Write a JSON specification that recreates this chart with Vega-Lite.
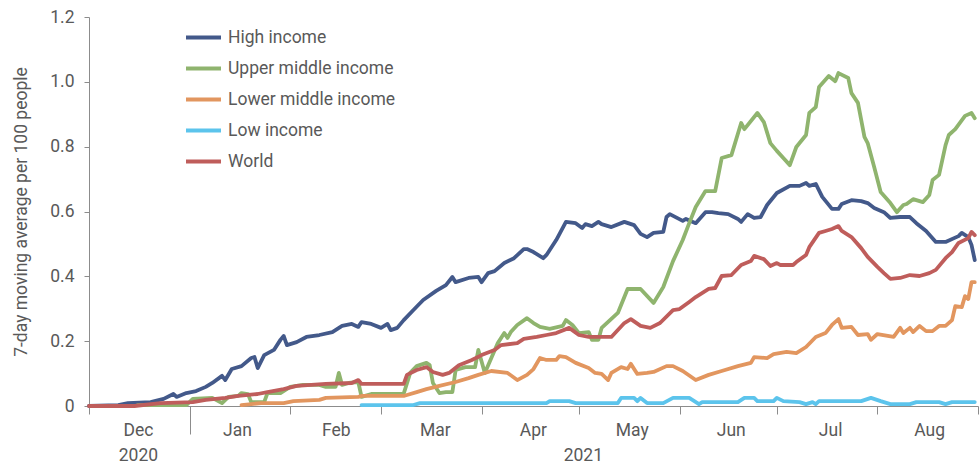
{
  "$schema": "https://vega.github.io/schema/vega-lite/v6.json",
  "width": 889,
  "height": 389,
  "autosize": {"type": "none"},
  "padding": {"left": 89, "top": 17, "right": 1, "bottom": 58},
  "config": {
    "view": {"stroke": null},
    "font": "Roboto",
    "axis": {"grid": false, "domainColor": "#8c8c8c", "tickColor": "#8c8c8c", "labelColor": "#595959", "titleColor": "#595959", "labelFont": "Roboto", "titleFont": "Roboto", "labelFontSize": 17.5, "titleFontWeight": "normal"}
  },
  "resolve": {"axis": {"x": "independent"}},
  "layer": [
    {
      "data": {"values": [
        {"s":"High income","d":"2020-12-01","v":0},
        {"s":"High income","d":"2020-12-10","v":0.003},
        {"s":"High income","d":"2020-12-13","v":0.009},
        {"s":"High income","d":"2020-12-20","v":0.012},
        {"s":"High income","d":"2020-12-24","v":0.022},
        {"s":"High income","d":"2020-12-27","v":0.037},
        {"s":"High income","d":"2020-12-28","v":0.028},
        {"s":"High income","d":"2020-12-31","v":0.040},
        {"s":"High income","d":"2021-01-03","v":0.046},
        {"s":"High income","d":"2021-01-06","v":0.059},
        {"s":"High income","d":"2021-01-08","v":0.071},
        {"s":"High income","d":"2021-01-11","v":0.093},
        {"s":"High income","d":"2021-01-12","v":0.080},
        {"s":"High income","d":"2021-01-14","v":0.114},
        {"s":"High income","d":"2021-01-17","v":0.123},
        {"s":"High income","d":"2021-01-20","v":0.148},
        {"s":"High income","d":"2021-01-21","v":0.151},
        {"s":"High income","d":"2021-01-22","v":0.117},
        {"s":"High income","d":"2021-01-24","v":0.157},
        {"s":"High income","d":"2021-01-27","v":0.173},
        {"s":"High income","d":"2021-01-29","v":0.204},
        {"s":"High income","d":"2021-01-30","v":0.216},
        {"s":"High income","d":"2021-01-31","v":0.188},
        {"s":"High income","d":"2021-02-03","v":0.197},
        {"s":"High income","d":"2021-02-06","v":0.213},
        {"s":"High income","d":"2021-02-10","v":0.219},
        {"s":"High income","d":"2021-02-14","v":0.228},
        {"s":"High income","d":"2021-02-17","v":0.247},
        {"s":"High income","d":"2021-02-20","v":0.253},
        {"s":"High income","d":"2021-02-22","v":0.244},
        {"s":"High income","d":"2021-02-23","v":0.259},
        {"s":"High income","d":"2021-02-26","v":0.253},
        {"s":"High income","d":"2021-03-01","v":0.241},
        {"s":"High income","d":"2021-03-03","v":0.253},
        {"s":"High income","d":"2021-03-04","v":0.234},
        {"s":"High income","d":"2021-03-06","v":0.241},
        {"s":"High income","d":"2021-03-08","v":0.265},
        {"s":"High income","d":"2021-03-11","v":0.296},
        {"s":"High income","d":"2021-03-14","v":0.327},
        {"s":"High income","d":"2021-03-18","v":0.355},
        {"s":"High income","d":"2021-03-21","v":0.373},
        {"s":"High income","d":"2021-03-23","v":0.398},
        {"s":"High income","d":"2021-03-24","v":0.382},
        {"s":"High income","d":"2021-03-28","v":0.395},
        {"s":"High income","d":"2021-03-31","v":0.398},
        {"s":"High income","d":"2021-04-01","v":0.382},
        {"s":"High income","d":"2021-04-03","v":0.410},
        {"s":"High income","d":"2021-04-05","v":0.416},
        {"s":"High income","d":"2021-04-08","v":0.441},
        {"s":"High income","d":"2021-04-11","v":0.456},
        {"s":"High income","d":"2021-04-14","v":0.484},
        {"s":"High income","d":"2021-04-15","v":0.484},
        {"s":"High income","d":"2021-04-17","v":0.475},
        {"s":"High income","d":"2021-04-20","v":0.456},
        {"s":"High income","d":"2021-04-21","v":0.466},
        {"s":"High income","d":"2021-04-24","v":0.512},
        {"s":"High income","d":"2021-04-27","v":0.568},
        {"s":"High income","d":"2021-04-30","v":0.564},
        {"s":"High income","d":"2021-05-02","v":0.549},
        {"s":"High income","d":"2021-05-03","v":0.561},
        {"s":"High income","d":"2021-05-05","v":0.555},
        {"s":"High income","d":"2021-05-07","v":0.568},
        {"s":"High income","d":"2021-05-08","v":0.561},
        {"s":"High income","d":"2021-05-11","v":0.552},
        {"s":"High income","d":"2021-05-15","v":0.568},
        {"s":"High income","d":"2021-05-18","v":0.558},
        {"s":"High income","d":"2021-05-20","v":0.531},
        {"s":"High income","d":"2021-05-22","v":0.521},
        {"s":"High income","d":"2021-05-24","v":0.534},
        {"s":"High income","d":"2021-05-27","v":0.537},
        {"s":"High income","d":"2021-05-28","v":0.583},
        {"s":"High income","d":"2021-05-29","v":0.592},
        {"s":"High income","d":"2021-06-02","v":0.571},
        {"s":"High income","d":"2021-06-03","v":0.577},
        {"s":"High income","d":"2021-06-06","v":0.564},
        {"s":"High income","d":"2021-06-09","v":0.598},
        {"s":"High income","d":"2021-06-11","v":0.598},
        {"s":"High income","d":"2021-06-13","v":0.595},
        {"s":"High income","d":"2021-06-16","v":0.592},
        {"s":"High income","d":"2021-06-19","v":0.577},
        {"s":"High income","d":"2021-06-20","v":0.568},
        {"s":"High income","d":"2021-06-22","v":0.592},
        {"s":"High income","d":"2021-06-24","v":0.580},
        {"s":"High income","d":"2021-06-26","v":0.583},
        {"s":"High income","d":"2021-06-28","v":0.620},
        {"s":"High income","d":"2021-07-01","v":0.657},
        {"s":"High income","d":"2021-07-05","v":0.679},
        {"s":"High income","d":"2021-07-08","v":0.679},
        {"s":"High income","d":"2021-07-10","v":0.688},
        {"s":"High income","d":"2021-07-11","v":0.679},
        {"s":"High income","d":"2021-07-13","v":0.685},
        {"s":"High income","d":"2021-07-15","v":0.645},
        {"s":"High income","d":"2021-07-18","v":0.608},
        {"s":"High income","d":"2021-07-20","v":0.608},
        {"s":"High income","d":"2021-07-21","v":0.623},
        {"s":"High income","d":"2021-07-24","v":0.635},
        {"s":"High income","d":"2021-07-27","v":0.632},
        {"s":"High income","d":"2021-07-29","v":0.626},
        {"s":"High income","d":"2021-07-31","v":0.611},
        {"s":"High income","d":"2021-08-03","v":0.598},
        {"s":"High income","d":"2021-08-05","v":0.580},
        {"s":"High income","d":"2021-08-08","v":0.583},
        {"s":"High income","d":"2021-08-11","v":0.583},
        {"s":"High income","d":"2021-08-13","v":0.564},
        {"s":"High income","d":"2021-08-16","v":0.540},
        {"s":"High income","d":"2021-08-19","v":0.506},
        {"s":"High income","d":"2021-08-22","v":0.506},
        {"s":"High income","d":"2021-08-26","v":0.524},
        {"s":"High income","d":"2021-08-27","v":0.534},
        {"s":"High income","d":"2021-08-29","v":0.521},
        {"s":"High income","d":"2021-08-30","v":0.497},
        {"s":"High income","d":"2021-08-31","v":0.450},

        {"s":"Upper middle income","d":"2020-12-16","v":0.003},
        {"s":"Upper middle income","d":"2020-12-31","v":0.003},
        {"s":"Upper middle income","d":"2021-01-02","v":0.022},
        {"s":"Upper middle income","d":"2021-01-08","v":0.025},
        {"s":"Upper middle income","d":"2021-01-11","v":0.009},
        {"s":"Upper middle income","d":"2021-01-13","v":0.028},
        {"s":"Upper middle income","d":"2021-01-16","v":0.031},
        {"s":"Upper middle income","d":"2021-01-17","v":0.040},
        {"s":"Upper middle income","d":"2021-01-19","v":0.037},
        {"s":"Upper middle income","d":"2021-01-20","v":0.012},
        {"s":"Upper middle income","d":"2021-01-24","v":0.012},
        {"s":"Upper middle income","d":"2021-01-25","v":0.040},
        {"s":"Upper middle income","d":"2021-01-29","v":0.040},
        {"s":"Upper middle income","d":"2021-02-01","v":0.059},
        {"s":"Upper middle income","d":"2021-02-05","v":0.065},
        {"s":"Upper middle income","d":"2021-02-10","v":0.065},
        {"s":"Upper middle income","d":"2021-02-12","v":0.059},
        {"s":"Upper middle income","d":"2021-02-15","v":0.059},
        {"s":"Upper middle income","d":"2021-02-16","v":0.102},
        {"s":"Upper middle income","d":"2021-02-17","v":0.065},
        {"s":"Upper middle income","d":"2021-02-19","v":0.071},
        {"s":"Upper middle income","d":"2021-02-22","v":0.074},
        {"s":"Upper middle income","d":"2021-02-23","v":0.028},
        {"s":"Upper middle income","d":"2021-02-26","v":0.037},
        {"s":"Upper middle income","d":"2021-03-08","v":0.038},
        {"s":"Upper middle income","d":"2021-03-10","v":0.102},
        {"s":"Upper middle income","d":"2021-03-12","v":0.123},
        {"s":"Upper middle income","d":"2021-03-15","v":0.133},
        {"s":"Upper middle income","d":"2021-03-16","v":0.126},
        {"s":"Upper middle income","d":"2021-03-17","v":0.071},
        {"s":"Upper middle income","d":"2021-03-19","v":0.040},
        {"s":"Upper middle income","d":"2021-03-21","v":0.043},
        {"s":"Upper middle income","d":"2021-03-23","v":0.043},
        {"s":"Upper middle income","d":"2021-03-24","v":0.111},
        {"s":"Upper middle income","d":"2021-03-27","v":0.120},
        {"s":"Upper middle income","d":"2021-03-30","v":0.120},
        {"s":"Upper middle income","d":"2021-03-31","v":0.173},
        {"s":"Upper middle income","d":"2021-04-02","v":0.102},
        {"s":"Upper middle income","d":"2021-04-04","v":0.148},
        {"s":"Upper middle income","d":"2021-04-06","v":0.194},
        {"s":"Upper middle income","d":"2021-04-08","v":0.225},
        {"s":"Upper middle income","d":"2021-04-09","v":0.210},
        {"s":"Upper middle income","d":"2021-04-10","v":0.228},
        {"s":"Upper middle income","d":"2021-04-12","v":0.250},
        {"s":"Upper middle income","d":"2021-04-15","v":0.271},
        {"s":"Upper middle income","d":"2021-04-17","v":0.256},
        {"s":"Upper middle income","d":"2021-04-19","v":0.244},
        {"s":"Upper middle income","d":"2021-04-22","v":0.238},
        {"s":"Upper middle income","d":"2021-04-26","v":0.247},
        {"s":"Upper middle income","d":"2021-04-27","v":0.265},
        {"s":"Upper middle income","d":"2021-04-29","v":0.250},
        {"s":"Upper middle income","d":"2021-05-01","v":0.225},
        {"s":"Upper middle income","d":"2021-05-04","v":0.228},
        {"s":"Upper middle income","d":"2021-05-05","v":0.204},
        {"s":"Upper middle income","d":"2021-05-07","v":0.204},
        {"s":"Upper middle income","d":"2021-05-08","v":0.241},
        {"s":"Upper middle income","d":"2021-05-13","v":0.287},
        {"s":"Upper middle income","d":"2021-05-16","v":0.361},
        {"s":"Upper middle income","d":"2021-05-20","v":0.361},
        {"s":"Upper middle income","d":"2021-05-24","v":0.318},
        {"s":"Upper middle income","d":"2021-05-27","v":0.367},
        {"s":"Upper middle income","d":"2021-05-30","v":0.447},
        {"s":"Upper middle income","d":"2021-06-02","v":0.512},
        {"s":"Upper middle income","d":"2021-06-04","v":0.564},
        {"s":"Upper middle income","d":"2021-06-06","v":0.614},
        {"s":"Upper middle income","d":"2021-06-09","v":0.663},
        {"s":"Upper middle income","d":"2021-06-12","v":0.663},
        {"s":"Upper middle income","d":"2021-06-14","v":0.765},
        {"s":"Upper middle income","d":"2021-06-17","v":0.774},
        {"s":"Upper middle income","d":"2021-06-20","v":0.873},
        {"s":"Upper middle income","d":"2021-06-21","v":0.854},
        {"s":"Upper middle income","d":"2021-06-25","v":0.904},
        {"s":"Upper middle income","d":"2021-06-27","v":0.876},
        {"s":"Upper middle income","d":"2021-06-29","v":0.811},
        {"s":"Upper middle income","d":"2021-07-01","v":0.787},
        {"s":"Upper middle income","d":"2021-07-03","v":0.765},
        {"s":"Upper middle income","d":"2021-07-05","v":0.743},
        {"s":"Upper middle income","d":"2021-07-07","v":0.799},
        {"s":"Upper middle income","d":"2021-07-10","v":0.836},
        {"s":"Upper middle income","d":"2021-07-11","v":0.904},
        {"s":"Upper middle income","d":"2021-07-13","v":0.922},
        {"s":"Upper middle income","d":"2021-07-14","v":0.984},
        {"s":"Upper middle income","d":"2021-07-17","v":1.018},
        {"s":"Upper middle income","d":"2021-07-19","v":1.002},
        {"s":"Upper middle income","d":"2021-07-20","v":1.027},
        {"s":"Upper middle income","d":"2021-07-23","v":1.012},
        {"s":"Upper middle income","d":"2021-07-24","v":0.965},
        {"s":"Upper middle income","d":"2021-07-26","v":0.935},
        {"s":"Upper middle income","d":"2021-07-28","v":0.830},
        {"s":"Upper middle income","d":"2021-07-29","v":0.811},
        {"s":"Upper middle income","d":"2021-07-31","v":0.737},
        {"s":"Upper middle income","d":"2021-08-02","v":0.660},
        {"s":"Upper middle income","d":"2021-08-05","v":0.626},
        {"s":"Upper middle income","d":"2021-08-07","v":0.598},
        {"s":"Upper middle income","d":"2021-08-09","v":0.620},
        {"s":"Upper middle income","d":"2021-08-10","v":0.623},
        {"s":"Upper middle income","d":"2021-08-12","v":0.638},
        {"s":"Upper middle income","d":"2021-08-15","v":0.629},
        {"s":"Upper middle income","d":"2021-08-17","v":0.651},
        {"s":"Upper middle income","d":"2021-08-18","v":0.697},
        {"s":"Upper middle income","d":"2021-08-20","v":0.713},
        {"s":"Upper middle income","d":"2021-08-22","v":0.805},
        {"s":"Upper middle income","d":"2021-08-23","v":0.836},
        {"s":"Upper middle income","d":"2021-08-25","v":0.854},
        {"s":"Upper middle income","d":"2021-08-28","v":0.895},
        {"s":"Upper middle income","d":"2021-08-30","v":0.904},
        {"s":"Upper middle income","d":"2021-08-31","v":0.888},

        {"s":"Lower middle income","d":"2021-01-17","v":0.003},
        {"s":"Lower middle income","d":"2021-01-23","v":0.009},
        {"s":"Lower middle income","d":"2021-01-30","v":0.009},
        {"s":"Lower middle income","d":"2021-02-02","v":0.015},
        {"s":"Lower middle income","d":"2021-02-10","v":0.019},
        {"s":"Lower middle income","d":"2021-02-12","v":0.025},
        {"s":"Lower middle income","d":"2021-02-22","v":0.028},
        {"s":"Lower middle income","d":"2021-02-23","v":0.031},
        {"s":"Lower middle income","d":"2021-03-08","v":0.031},
        {"s":"Lower middle income","d":"2021-03-09","v":0.034},
        {"s":"Lower middle income","d":"2021-03-12","v":0.043},
        {"s":"Lower middle income","d":"2021-03-15","v":0.052},
        {"s":"Lower middle income","d":"2021-03-19","v":0.062},
        {"s":"Lower middle income","d":"2021-03-24","v":0.074},
        {"s":"Lower middle income","d":"2021-03-28","v":0.086},
        {"s":"Lower middle income","d":"2021-03-31","v":0.096},
        {"s":"Lower middle income","d":"2021-04-04","v":0.108},
        {"s":"Lower middle income","d":"2021-04-09","v":0.102},
        {"s":"Lower middle income","d":"2021-04-12","v":0.080},
        {"s":"Lower middle income","d":"2021-04-15","v":0.096},
        {"s":"Lower middle income","d":"2021-04-17","v":0.114},
        {"s":"Lower middle income","d":"2021-04-19","v":0.148},
        {"s":"Lower middle income","d":"2021-04-21","v":0.142},
        {"s":"Lower middle income","d":"2021-04-24","v":0.142},
        {"s":"Lower middle income","d":"2021-04-25","v":0.154},
        {"s":"Lower middle income","d":"2021-04-27","v":0.151},
        {"s":"Lower middle income","d":"2021-04-30","v":0.133},
        {"s":"Lower middle income","d":"2021-05-04","v":0.117},
        {"s":"Lower middle income","d":"2021-05-06","v":0.102},
        {"s":"Lower middle income","d":"2021-05-08","v":0.099},
        {"s":"Lower middle income","d":"2021-05-10","v":0.080},
        {"s":"Lower middle income","d":"2021-05-11","v":0.102},
        {"s":"Lower middle income","d":"2021-05-14","v":0.120},
        {"s":"Lower middle income","d":"2021-05-16","v":0.114},
        {"s":"Lower middle income","d":"2021-05-17","v":0.130},
        {"s":"Lower middle income","d":"2021-05-19","v":0.099},
        {"s":"Lower middle income","d":"2021-05-22","v":0.102},
        {"s":"Lower middle income","d":"2021-05-24","v":0.105},
        {"s":"Lower middle income","d":"2021-05-28","v":0.123},
        {"s":"Lower middle income","d":"2021-05-30","v":0.123},
        {"s":"Lower middle income","d":"2021-06-02","v":0.108},
        {"s":"Lower middle income","d":"2021-06-06","v":0.080},
        {"s":"Lower middle income","d":"2021-06-10","v":0.096},
        {"s":"Lower middle income","d":"2021-06-14","v":0.108},
        {"s":"Lower middle income","d":"2021-06-19","v":0.123},
        {"s":"Lower middle income","d":"2021-06-23","v":0.133},
        {"s":"Lower middle income","d":"2021-06-24","v":0.151},
        {"s":"Lower middle income","d":"2021-06-28","v":0.148},
        {"s":"Lower middle income","d":"2021-06-30","v":0.160},
        {"s":"Lower middle income","d":"2021-07-04","v":0.167},
        {"s":"Lower middle income","d":"2021-07-07","v":0.163},
        {"s":"Lower middle income","d":"2021-07-10","v":0.182},
        {"s":"Lower middle income","d":"2021-07-13","v":0.213},
        {"s":"Lower middle income","d":"2021-07-16","v":0.225},
        {"s":"Lower middle income","d":"2021-07-18","v":0.250},
        {"s":"Lower middle income","d":"2021-07-20","v":0.268},
        {"s":"Lower middle income","d":"2021-07-21","v":0.241},
        {"s":"Lower middle income","d":"2021-07-24","v":0.244},
        {"s":"Lower middle income","d":"2021-07-26","v":0.219},
        {"s":"Lower middle income","d":"2021-07-29","v":0.222},
        {"s":"Lower middle income","d":"2021-07-30","v":0.204},
        {"s":"Lower middle income","d":"2021-08-01","v":0.222},
        {"s":"Lower middle income","d":"2021-08-06","v":0.213},
        {"s":"Lower middle income","d":"2021-08-08","v":0.241},
        {"s":"Lower middle income","d":"2021-08-09","v":0.225},
        {"s":"Lower middle income","d":"2021-08-11","v":0.241},
        {"s":"Lower middle income","d":"2021-08-12","v":0.228},
        {"s":"Lower middle income","d":"2021-08-14","v":0.247},
        {"s":"Lower middle income","d":"2021-08-16","v":0.231},
        {"s":"Lower middle income","d":"2021-08-18","v":0.231},
        {"s":"Lower middle income","d":"2021-08-20","v":0.247},
        {"s":"Lower middle income","d":"2021-08-22","v":0.247},
        {"s":"Lower middle income","d":"2021-08-24","v":0.265},
        {"s":"Lower middle income","d":"2021-08-25","v":0.308},
        {"s":"Lower middle income","d":"2021-08-27","v":0.305},
        {"s":"Lower middle income","d":"2021-08-28","v":0.339},
        {"s":"Lower middle income","d":"2021-08-29","v":0.330},
        {"s":"Lower middle income","d":"2021-08-30","v":0.382},
        {"s":"Lower middle income","d":"2021-08-31","v":0.382},

        {"s":"Low income","d":"2021-02-23","v":0.003},
        {"s":"Low income","d":"2021-03-11","v":0.003},
        {"s":"Low income","d":"2021-03-13","v":0.009},
        {"s":"Low income","d":"2021-04-21","v":0.009},
        {"s":"Low income","d":"2021-04-22","v":0.015},
        {"s":"Low income","d":"2021-04-28","v":0.015},
        {"s":"Low income","d":"2021-04-30","v":0.009},
        {"s":"Low income","d":"2021-05-13","v":0.009},
        {"s":"Low income","d":"2021-05-14","v":0.025},
        {"s":"Low income","d":"2021-05-18","v":0.025},
        {"s":"Low income","d":"2021-05-19","v":0.015},
        {"s":"Low income","d":"2021-05-20","v":0.025},
        {"s":"Low income","d":"2021-05-22","v":0.009},
        {"s":"Low income","d":"2021-05-27","v":0.009},
        {"s":"Low income","d":"2021-05-30","v":0.025},
        {"s":"Low income","d":"2021-06-04","v":0.025},
        {"s":"Low income","d":"2021-06-07","v":0.006},
        {"s":"Low income","d":"2021-06-08","v":0.012},
        {"s":"Low income","d":"2021-06-19","v":0.012},
        {"s":"Low income","d":"2021-06-21","v":0.025},
        {"s":"Low income","d":"2021-06-24","v":0.025},
        {"s":"Low income","d":"2021-06-25","v":0.015},
        {"s":"Low income","d":"2021-06-30","v":0.015},
        {"s":"Low income","d":"2021-07-01","v":0.025},
        {"s":"Low income","d":"2021-07-03","v":0.015},
        {"s":"Low income","d":"2021-07-08","v":0.012},
        {"s":"Low income","d":"2021-07-10","v":0.006},
        {"s":"Low income","d":"2021-07-12","v":0.012},
        {"s":"Low income","d":"2021-07-13","v":0.006},
        {"s":"Low income","d":"2021-07-14","v":0.015},
        {"s":"Low income","d":"2021-07-27","v":0.015},
        {"s":"Low income","d":"2021-07-30","v":0.025},
        {"s":"Low income","d":"2021-08-02","v":0.015},
        {"s":"Low income","d":"2021-08-05","v":0.006},
        {"s":"Low income","d":"2021-08-11","v":0.006},
        {"s":"Low income","d":"2021-08-13","v":0.012},
        {"s":"Low income","d":"2021-08-20","v":0.012},
        {"s":"Low income","d":"2021-08-22","v":0.006},
        {"s":"Low income","d":"2021-08-24","v":0.012},
        {"s":"Low income","d":"2021-08-31","v":0.012},

        {"s":"World","d":"2020-12-01","v":0},
        {"s":"World","d":"2020-12-15","v":0},
        {"s":"World","d":"2020-12-23","v":0.009},
        {"s":"World","d":"2021-01-02","v":0.012},
        {"s":"World","d":"2021-01-06","v":0.019},
        {"s":"World","d":"2021-01-12","v":0.025},
        {"s":"World","d":"2021-01-16","v":0.031},
        {"s":"World","d":"2021-01-22","v":0.037},
        {"s":"World","d":"2021-01-25","v":0.043},
        {"s":"World","d":"2021-01-30","v":0.052},
        {"s":"World","d":"2021-02-03","v":0.062},
        {"s":"World","d":"2021-02-12","v":0.068},
        {"s":"World","d":"2021-02-20","v":0.071},
        {"s":"World","d":"2021-02-22","v":0.080},
        {"s":"World","d":"2021-02-23","v":0.068},
        {"s":"World","d":"2021-03-08","v":0.068},
        {"s":"World","d":"2021-03-09","v":0.096},
        {"s":"World","d":"2021-03-12","v":0.111},
        {"s":"World","d":"2021-03-15","v":0.120},
        {"s":"World","d":"2021-03-17","v":0.105},
        {"s":"World","d":"2021-03-20","v":0.096},
        {"s":"World","d":"2021-03-22","v":0.102},
        {"s":"World","d":"2021-03-25","v":0.126},
        {"s":"World","d":"2021-03-29","v":0.142},
        {"s":"World","d":"2021-04-01","v":0.157},
        {"s":"World","d":"2021-04-05","v":0.173},
        {"s":"World","d":"2021-04-07","v":0.188},
        {"s":"World","d":"2021-04-12","v":0.194},
        {"s":"World","d":"2021-04-14","v":0.207},
        {"s":"World","d":"2021-04-18","v":0.213},
        {"s":"World","d":"2021-04-21","v":0.219},
        {"s":"World","d":"2021-04-24","v":0.225},
        {"s":"World","d":"2021-04-28","v":0.241},
        {"s":"World","d":"2021-05-01","v":0.219},
        {"s":"World","d":"2021-05-04","v":0.213},
        {"s":"World","d":"2021-05-11","v":0.213},
        {"s":"World","d":"2021-05-15","v":0.256},
        {"s":"World","d":"2021-05-17","v":0.268},
        {"s":"World","d":"2021-05-20","v":0.247},
        {"s":"World","d":"2021-05-23","v":0.241},
        {"s":"World","d":"2021-05-26","v":0.256},
        {"s":"World","d":"2021-05-30","v":0.296},
        {"s":"World","d":"2021-06-01","v":0.299},
        {"s":"World","d":"2021-06-04","v":0.321},
        {"s":"World","d":"2021-06-06","v":0.336},
        {"s":"World","d":"2021-06-10","v":0.361},
        {"s":"World","d":"2021-06-12","v":0.364},
        {"s":"World","d":"2021-06-14","v":0.401},
        {"s":"World","d":"2021-06-17","v":0.404},
        {"s":"World","d":"2021-06-20","v":0.435},
        {"s":"World","d":"2021-06-23","v":0.447},
        {"s":"World","d":"2021-06-24","v":0.463},
        {"s":"World","d":"2021-06-27","v":0.453},
        {"s":"World","d":"2021-06-29","v":0.432},
        {"s":"World","d":"2021-07-01","v":0.441},
        {"s":"World","d":"2021-07-02","v":0.435},
        {"s":"World","d":"2021-07-06","v":0.435},
        {"s":"World","d":"2021-07-07","v":0.444},
        {"s":"World","d":"2021-07-10","v":0.466},
        {"s":"World","d":"2021-07-11","v":0.490},
        {"s":"World","d":"2021-07-14","v":0.534},
        {"s":"World","d":"2021-07-16","v":0.540},
        {"s":"World","d":"2021-07-18","v":0.546},
        {"s":"World","d":"2021-07-20","v":0.555},
        {"s":"World","d":"2021-07-21","v":0.540},
        {"s":"World","d":"2021-07-24","v":0.521},
        {"s":"World","d":"2021-07-27","v":0.487},
        {"s":"World","d":"2021-07-29","v":0.460},
        {"s":"World","d":"2021-08-01","v":0.429},
        {"s":"World","d":"2021-08-03","v":0.410},
        {"s":"World","d":"2021-08-05","v":0.392},
        {"s":"World","d":"2021-08-08","v":0.395},
        {"s":"World","d":"2021-08-11","v":0.404},
        {"s":"World","d":"2021-08-14","v":0.401},
        {"s":"World","d":"2021-08-17","v":0.410},
        {"s":"World","d":"2021-08-19","v":0.420},
        {"s":"World","d":"2021-08-22","v":0.456},
        {"s":"World","d":"2021-08-24","v":0.475},
        {"s":"World","d":"2021-08-26","v":0.503},
        {"s":"World","d":"2021-08-29","v":0.518},
        {"s":"World","d":"2021-08-30","v":0.537},
        {"s":"World","d":"2021-08-31","v":0.527}
      ]},
      "mark": {"type": "line", "strokeWidth": 3.8, "strokeJoin": "round", "strokeCap": "round"},
      "encoding": {
        "x": {
          "field": "d", "type": "temporal",
          "scale": {"type": "utc", "domain": [{"year": 2020, "month": 12, "date": 1, "utc": true}, {"year": 2021, "month": 9, "date": 1, "utc": true}]},
          "axis": {
            "orient": "bottom", "title": null, "labels": false, "tickSize": 8,
            "values": [
              {"year": 2020, "month": 12, "date": 1, "utc": true},
              {"year": 2021, "month": 2, "date": 1, "utc": true},
              {"year": 2021, "month": 3, "date": 1, "utc": true},
              {"year": 2021, "month": 4, "date": 1, "utc": true},
              {"year": 2021, "month": 5, "date": 1, "utc": true},
              {"year": 2021, "month": 6, "date": 1, "utc": true},
              {"year": 2021, "month": 7, "date": 1, "utc": true},
              {"year": 2021, "month": 8, "date": 1, "utc": true},
              {"year": 2021, "month": 9, "date": 1, "utc": true}
            ]
          }
        },
        "y": {
          "field": "v", "type": "quantitative",
          "scale": {"domain": [0, 1.2], "nice": false, "zero": true},
          "axis": {
            "title": "7-day moving average per 100 people",
            "titleFontSize": 17.5,
            "titleX": -59,
            "values": [0, 0.2, 0.4, 0.6, 0.8, 1.0, 1.2],
            "labelExpr": "datum.value == 0 ? '0' : format(datum.value, '.1f')",
            "tickSize": 5, "labelPadding": 10
          }
        },
        "color": {
          "field": "s", "type": "nominal",
          "scale": {
            "domain": ["High income", "Upper middle income", "Lower middle income", "Low income", "World"],
            "range": ["#43598a", "#8fb46e", "#e2965f", "#5cc4ec", "#bf5d5b"]
          },
          "legend": {
            "title": null, "orient": "none", "legendX": 95, "legendY": 1,
            "symbolType": "stroke", "symbolSize": 1225, "symbolStrokeWidth": 4,
            "labelFontSize": 17.5, "labelColor": "#595959", "labelFont": "Roboto", "labelLimit": 400,
            "labelOffset": 5, "rowPadding": 3, "padding": 0
          }
        }
      }
    },
    {
      "data": {"values": [{"d": "2021-01-01"}]},
      "mark": {"type": "rule", "opacity": 0},
      "encoding": {
        "x": {
          "field": "d", "type": "temporal",
          "scale": {"type": "utc", "domain": [{"year": 2020, "month": 12, "date": 1, "utc": true}, {"year": 2021, "month": 9, "date": 1, "utc": true}]},
          "axis": {
            "orient": "bottom", "title": null, "ticks": false, "domain": false, "format": "%b", "labelPadding": 15,
            "values": [
              {"year": 2020, "month": 12, "date": 16, "hours": 2, "utc": true},
              {"year": 2021, "month": 1, "date": 15, "hours": 14, "utc": true},
              {"year": 2021, "month": 2, "date": 15, "hours": 2, "utc": true},
              {"year": 2021, "month": 3, "date": 17, "hours": 14, "utc": true},
              {"year": 2021, "month": 4, "date": 16, "hours": 19, "utc": true},
              {"year": 2021, "month": 5, "date": 17, "hours": 7, "utc": true},
              {"year": 2021, "month": 6, "date": 16, "hours": 19, "utc": true},
              {"year": 2021, "month": 7, "date": 17, "hours": 10, "utc": true},
              {"year": 2021, "month": 8, "date": 16, "hours": 22, "utc": true}
            ]
          }
        }
      }
    },
    {
      "data": {"values": [{"d": "2021-01-01"}]},
      "mark": {"type": "rule", "opacity": 0},
      "encoding": {
        "x": {
          "field": "d", "type": "temporal",
          "scale": {"type": "utc", "domain": [{"year": 2020, "month": 12, "date": 1, "utc": true}, {"year": 2021, "month": 9, "date": 1, "utc": true}]},
          "axis": {
            "orient": "bottom", "title": null, "labels": false, "domain": false, "tickSize": 28,
            "values": [{"year": 2021, "month": 1, "date": 1, "utc": true}]
          }
        }
      }
    },
    {
      "data": {"values": [{"d": "2021-01-01"}]},
      "mark": {"type": "rule", "opacity": 0},
      "encoding": {
        "x": {
          "field": "d", "type": "temporal",
          "scale": {"type": "utc", "domain": [{"year": 2020, "month": 12, "date": 1, "utc": true}, {"year": 2021, "month": 9, "date": 1, "utc": true}]},
          "axis": {
            "orient": "bottom", "title": null, "ticks": false, "domain": false, "format": "%Y", "labelPadding": 40,
            "values": [
              {"year": 2020, "month": 12, "date": 16, "hours": 2, "utc": true},
              {"year": 2021, "month": 5, "date": 2, "hours": 5, "utc": true}
            ]
          }
        }
      }
    }
  ]
}
